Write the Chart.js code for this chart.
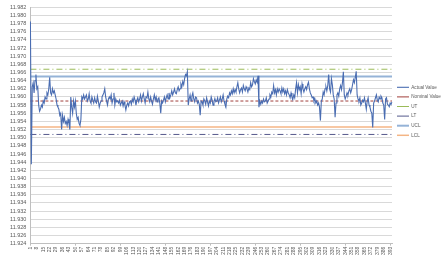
<!DOCTYPE html>
<html>
<head>
<meta charset="utf-8">
<script src="https://cdn.jsdelivr.net/npm/chart.js@4/dist/chart.umd.min.js"></script>
<style>
  html, body { margin: 0; padding: 0; background: #ffffff; }
  #wrap { width: 446px; height: 256px; }
</style>
</head>
<body>
<div id="wrap"><canvas id="chart" width="446" height="256"></canvas></div>
<script>
const actualValues = [
  11.9785, 11.9435, 11.9625, 11.9635, 11.961, 11.964, 11.9655, 11.962, 11.9625, 11.958,
  11.9565, 11.957, 11.958, 11.9575, 11.959, 11.9585, 11.96, 11.9595, 11.961, 11.9605,
  11.962, 11.9648, 11.961, 11.9605, 11.962, 11.961, 11.9615, 11.9605, 11.9595, 11.958,
  11.9575, 11.957, 11.9555, 11.956, 11.952, 11.9555, 11.954, 11.955, 11.9535, 11.954,
  11.953, 11.9545, 11.9535, 11.952, 11.96, 11.9575, 11.956, 11.959, 11.9575, 11.959,
  11.956, 11.9545, 11.955, 11.9535, 11.953, 11.9545, 11.96, 11.9595, 11.9605, 11.9595,
  11.96, 11.9605, 11.959, 11.9595, 11.9608, 11.959, 11.9585, 11.96, 11.9592, 11.9585,
  11.9598, 11.9588, 11.9585, 11.9602, 11.959, 11.9575, 11.9585, 11.959, 11.96, 11.9605,
  11.961, 11.962, 11.96, 11.959, 11.958, 11.9595, 11.96, 11.9595, 11.9605, 11.9585,
  11.9595, 11.961, 11.958, 11.9595, 11.9588, 11.959, 11.9585, 11.9592, 11.958, 11.9585,
  11.959, 11.9578, 11.9588, 11.958, 11.9568, 11.958, 11.9585, 11.9578, 11.9588, 11.959,
  11.9582, 11.9595, 11.9588, 11.96, 11.9592, 11.958, 11.9592, 11.9598, 11.9588, 11.9595,
  11.9605, 11.959, 11.96, 11.9608, 11.9595, 11.9585, 11.96, 11.9598, 11.9612, 11.9595,
  11.9588, 11.96, 11.959, 11.9582, 11.9595, 11.9605, 11.9592, 11.96, 11.9588, 11.9595,
  11.9598, 11.9585, 11.956, 11.959, 11.9585, 11.9592, 11.96, 11.9588, 11.9598, 11.9605,
  11.9595, 11.961, 11.9598, 11.9605, 11.9615, 11.9605, 11.9612, 11.962, 11.961, 11.9608,
  11.9618, 11.9625, 11.9615, 11.962, 11.9632, 11.9625, 11.9638, 11.963, 11.9645, 11.9655,
  11.9652, 11.9662, 11.958, 11.9595, 11.9605, 11.959, 11.9602, 11.961, 11.9595, 11.9588,
  11.96, 11.9598, 11.9585, 11.959, 11.9582, 11.9555, 11.959, 11.9588, 11.958, 11.9595,
  11.959, 11.9582, 11.9598, 11.9588, 11.9578, 11.959, 11.9585, 11.96, 11.9592, 11.958,
  11.9588, 11.9596, 11.9588, 11.959, 11.9598, 11.9585, 11.9592, 11.96, 11.9588, 11.9595,
  11.9605, 11.959, 11.9582, 11.9575, 11.9595, 11.9602, 11.9598, 11.961, 11.9605, 11.9615,
  11.9608, 11.962, 11.961, 11.9618, 11.9612, 11.9625, 11.9635, 11.962, 11.961, 11.9618,
  11.9622, 11.9612, 11.9628, 11.962, 11.9615, 11.9625, 11.962, 11.9612, 11.9622, 11.9618,
  11.9635, 11.9625, 11.963, 11.9645, 11.9638, 11.9632, 11.9642, 11.9636, 11.9652, 11.9575,
  11.959, 11.9582, 11.959, 11.9585, 11.9595, 11.9588, 11.959, 11.9598, 11.9585, 11.959,
  11.9595, 11.9605, 11.96, 11.9612, 11.9608, 11.9628, 11.961, 11.9618, 11.9605, 11.962,
  11.9612, 11.962, 11.9615, 11.9608, 11.9622, 11.9612, 11.962, 11.9608, 11.9615, 11.9605,
  11.9618, 11.961, 11.9605, 11.9598, 11.961, 11.96, 11.9595, 11.9605, 11.9598, 11.962,
  11.9635, 11.961, 11.963, 11.9618, 11.9625, 11.9608, 11.9632, 11.962, 11.9612, 11.962,
  11.9625, 11.9618, 11.963, 11.9636, 11.962, 11.961, 11.9605, 11.9598, 11.96, 11.959,
  11.9595, 11.9585, 11.959, 11.958, 11.9585, 11.9575, 11.9542, 11.959, 11.9595, 11.9612,
  11.9605, 11.962, 11.9625, 11.9615, 11.9628, 11.9655, 11.962, 11.9612, 11.9645, 11.963,
  11.9605, 11.9595, 11.955, 11.9585, 11.9605, 11.961, 11.9602, 11.962, 11.9628, 11.9618,
  11.9635, 11.9662, 11.9605, 11.9595, 11.9602, 11.961, 11.9605, 11.9615, 11.962, 11.961,
  11.9618, 11.963, 11.9642, 11.9635, 11.9648, 11.9663, 11.9605, 11.9595, 11.959, 11.9598,
  11.958, 11.9585, 11.9592, 11.9588, 11.9598, 11.9585, 11.957, 11.959, 11.9598, 11.958,
  11.9575, 11.9565, 11.956, 11.9525, 11.9585, 11.959, 11.9598, 11.9605, 11.9592, 11.9588,
  11.96, 11.9595, 11.9602, 11.9598, 11.9585, 11.958, 11.9545, 11.9595, 11.9598, 11.9582,
  11.958, 11.9576, 11.9585, 11.9582, 11.9588
];

// Sample numbers 1..395 (category labels)
const sampleLabels = [];
for (let i = 1; i <= actualValues.length; i++) sampleLabels.push(String(i));

// Limit lines (constant values)
const nominalValue = 11.959;
const upperTolerance = 11.9668;
const lowerTolerance = 11.9508;
const upperControl = 11.9650;
const lowerControl = 11.9526;

// Y axis ticks
const yTicks = [
  11.924, 11.926, 11.928, 11.930, 11.932, 11.934, 11.936, 11.938, 11.940, 11.942,
  11.944, 11.946, 11.948, 11.950, 11.952, 11.954, 11.956, 11.958, 11.960, 11.962,
  11.964, 11.966, 11.968, 11.970, 11.972, 11.974, 11.976, 11.978, 11.980, 11.982
];

const firstLabel = sampleLabels[0];
const lastLabel = sampleLabels[sampleLabels.length - 1];

function limitLine(value) {
  return [{ x: firstLabel, y: value }, { x: lastLabel, y: value }];
}

const chart = new Chart(document.getElementById("chart"), {
  type: "line",
  data: {
    labels: sampleLabels,
    datasets: [
      {
        label: "Actual Value",
        data: actualValues,
        borderColor: "#4a6db2",
        borderWidth: 1.1,
        pointRadius: 0,
        tension: 0,
        order: 0
      },
      {
        label: "Nominal Value",
        data: limitLine(nominalValue),
        borderColor: "#a13f3b",
        borderWidth: 1,
        borderDash: [3, 2],
        pointRadius: 0,
        order: 1
      },
      {
        label: "UT",
        data: limitLine(upperTolerance),
        borderColor: "#9bbb59",
        borderWidth: 1,
        borderDash: [6, 3, 1, 3],
        pointRadius: 0,
        order: 2
      },
      {
        label: "LT",
        data: limitLine(lowerTolerance),
        borderColor: "#55598c",
        borderWidth: 1,
        borderDash: [6, 3, 1, 3],
        pointRadius: 0,
        order: 3
      },
      {
        label: "UCL",
        data: limitLine(upperControl),
        borderColor: "#95b3d7",
        borderWidth: 2,
        pointRadius: 0,
        order: 4
      },
      {
        label: "LCL",
        data: limitLine(lowerControl),
        borderColor: "#f4b585",
        borderWidth: 1.5,
        pointRadius: 0,
        order: 5
      }
    ]
  },
  options: {
    responsive: false,
    animation: false,
    devicePixelRatio: 1,
    layout: { padding: { left: 6, top: 3, right: 0, bottom: 0 } },
    font: { family: "'Liberation Sans', Arial, sans-serif", size: 5 },
    plugins: {
      tooltip: { enabled: false },
      legend: {
        position: "right",
        align: "start",
        maxWidth: 54,
        title: { display: true, text: " ", padding: { top: 71, bottom: 0 }, font: { size: 5 } },
        labels: {
          usePointStyle: true,
          pointStyle: "line",
          pointStyleWidth: 12,
          boxWidth: 12,
          boxHeight: 5,
          padding: 5,
          color: "#595959",
          font: { size: 4.6, family: "'Liberation Sans', Arial, sans-serif" }
        }
      }
    },
    scales: {
      x: {
        type: "category",
        offset: false,
        grid: {
          drawOnChartArea: false,
          drawTicks: true,
          tickLength: 2,
          color: function (ctx) { return ctx.index % 7 === 0 ? "#bfbfbf" : "rgba(0,0,0,0)"; }
        },
        border: { display: true, color: "#bfbfbf" },
        ticks: {
          autoSkip: false,
          maxRotation: 90,
          minRotation: 90,
          padding: 1,
          color: "#595959",
          font: { size: 5 },
          callback: function (value, index) {
            return index % 7 === 0 ? sampleLabels[index] : null;
          }
        }
      },
      y: {
        min: yTicks[0],
        max: yTicks[yTicks.length - 1],
        afterBuildTicks: function (scale) {
          scale.ticks = yTicks.map(function (v) { return { value: v }; });
        },
        grid: { color: "#d9d9d9", drawTicks: false },
        border: { display: true, color: "#bfbfbf" },
        ticks: {
          autoSkip: false,
          padding: 4,
          color: "#595959",
          font: { size: 5.5 },
          callback: function (value) { return value.toFixed(3); }
        }
      }
    }
  }
});
</script>
</body>
</html>
